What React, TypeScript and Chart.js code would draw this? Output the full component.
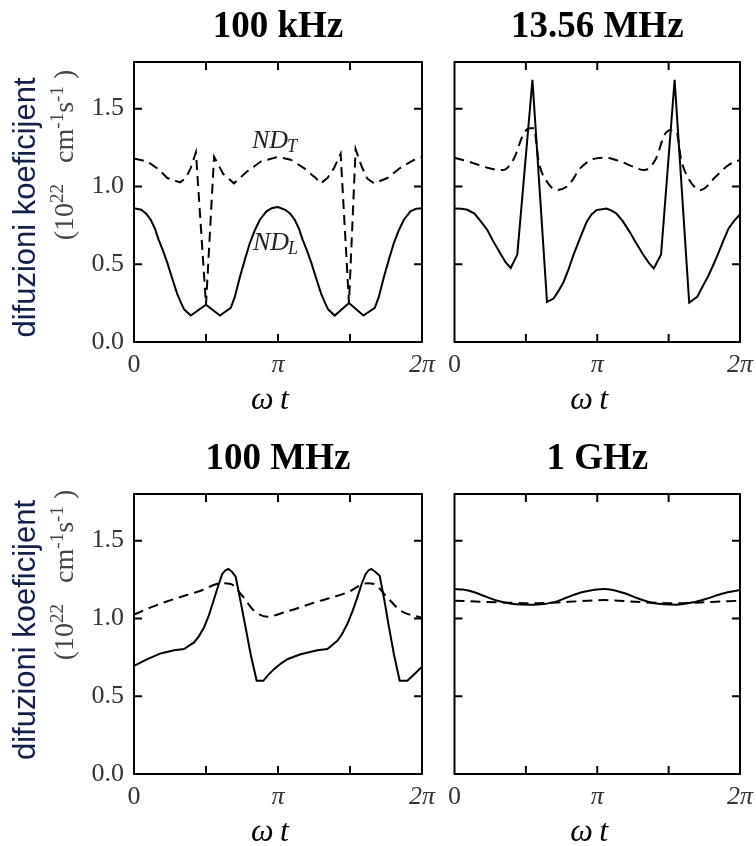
import React, { useEffect, useRef } from 'react';
import { Chart, registerables } from 'chart.js';

Chart.register(...registerables);
Chart.defaults.font.family = '"Liberation Serif", "Times New Roman", serif';

// x values are ωt / π (0 … 2)
const X_TICKS = [0, 0.5, 1, 1.5, 2];
const X_LABELS = ['0', '', 'π', '', '2π'];
const Y_TICKS = [0, 0.5, 1, 1.5];
const Y_LABELS = ['0.0', '0.5', '1.0', '1.5'];
const Y_MIN = 0;
const Y_MAX = 1.8;

const TITLES = ['100 kHz', '13.56 MHz', '100 MHz', '1 GHz'];
const X_TITLE = 'ω\u2009t\u2002';
const Y_TITLE_1 = 'difuzioni koeficijent';

// 100 kHz
const KHZ_L_X = [0, 0.05, 0.085, 0.116, 0.145, 0.17, 0.2, 0.232, 0.265, 0.3, 0.325, 0.348, 0.394, 0.5, 0.597, 0.672, 0.7, 0.736, 0.77, 0.804, 0.84, 0.874, 0.92, 0.96, 1.0, 1.05, 1.085, 1.116, 1.145, 1.17, 1.2, 1.232, 1.265, 1.3, 1.325, 1.348, 1.394, 1.493, 1.593, 1.672, 1.7, 1.736, 1.77, 1.804, 1.84, 1.874, 1.92, 1.96, 2.0];
const KHZ_L_Y = [0.86, 0.85, 0.825, 0.786, 0.73, 0.66, 0.59, 0.507, 0.41, 0.31, 0.255, 0.21, 0.17, 0.24, 0.17, 0.22, 0.29, 0.42, 0.53, 0.635, 0.72, 0.786, 0.84, 0.862, 0.867, 0.85, 0.825, 0.786, 0.73, 0.66, 0.59, 0.507, 0.41, 0.31, 0.255, 0.21, 0.17, 0.25, 0.17, 0.22, 0.29, 0.42, 0.53, 0.635, 0.72, 0.786, 0.84, 0.857, 0.86];
const KHZ_T_X = [0, 0.093, 0.174, 0.231, 0.32, 0.359, 0.394, 0.43, 0.5, 0.556, 0.62, 0.694, 0.787, 0.88, 1.0, 1.088, 1.18, 1.262, 1.297, 1.343, 1.39, 1.435, 1.493, 1.539, 1.58, 1.62, 1.667, 1.76, 1.85, 1.944, 2.0];
const KHZ_T_Y = [1.18, 1.16, 1.108, 1.054, 1.026, 1.054, 1.118, 1.22, 0.24, 1.19, 1.08, 1.02, 1.097, 1.16, 1.19, 1.172, 1.118, 1.054, 1.02, 1.054, 1.12, 1.21, 0.25, 1.24, 1.13, 1.05, 1.02, 1.054, 1.12, 1.17, 1.19];

// 13.56 MHz
const MHZ13_L_X = [0, 0.05, 0.09, 0.14, 0.18, 0.23, 0.27, 0.32, 0.36, 0.394, 0.44, 0.546, 0.648, 0.694, 0.73, 0.764, 0.8, 0.833, 0.88, 0.926, 0.96, 0.995, 1.065, 1.1, 1.134, 1.18, 1.227, 1.27, 1.319, 1.36, 1.396, 1.447, 1.542, 1.644, 1.7, 1.74, 1.78, 1.815, 1.852, 1.885, 1.92, 1.96, 2.0];
const MHZ13_L_Y = [0.858, 0.857, 0.85, 0.826, 0.78, 0.72, 0.65, 0.57, 0.51, 0.476, 0.562, 1.685, 0.258, 0.279, 0.33, 0.386, 0.47, 0.558, 0.67, 0.773, 0.82, 0.848, 0.858, 0.845, 0.826, 0.775, 0.708, 0.64, 0.566, 0.51, 0.472, 0.562, 1.685, 0.253, 0.29, 0.36, 0.429, 0.5, 0.579, 0.655, 0.73, 0.78, 0.82];
const MHZ13_T_X = [0, 0.139, 0.23, 0.336, 0.417, 0.475, 0.521, 0.556, 0.59, 0.648, 0.718, 0.8, 0.88, 0.972, 1.053, 1.157, 1.25, 1.33, 1.412, 1.47, 1.516, 1.556, 1.586, 1.632, 1.725, 1.829, 1.92, 2.0];
const MHZ13_T_Y = [1.185, 1.148, 1.12, 1.105, 1.18, 1.32, 1.374, 1.374, 1.159, 1.03, 0.977, 1.009, 1.116, 1.176, 1.185, 1.163, 1.127, 1.105, 1.18, 1.33, 1.363, 1.35, 1.18, 1.062, 0.977, 1.062, 1.138, 1.17];

// 100 MHz
const MHZ100_L_X = [0, 0.093, 0.185, 0.278, 0.347, 0.417, 0.45, 0.486, 0.52, 0.556, 0.585, 0.613, 0.635, 0.655, 0.68, 0.706, 0.74, 0.775, 0.81, 0.852, 0.898, 0.935, 0.972, 1.02, 1.065, 1.157, 1.273, 1.343, 1.412, 1.445, 1.481, 1.515, 1.551, 1.58, 1.609, 1.63, 1.648, 1.675, 1.706, 1.74, 1.771, 1.805, 1.845, 1.898, 1.95, 2.0];
const MHZ100_L_Y = [0.695, 0.738, 0.775, 0.796, 0.803, 0.846, 0.885, 0.942, 1.02, 1.125, 1.21, 1.286, 1.31, 1.318, 1.3, 1.268, 1.11, 0.942, 0.77, 0.599, 0.599, 0.64, 0.674, 0.71, 0.738, 0.77, 0.796, 0.803, 0.856, 0.9, 0.964, 1.04, 1.135, 1.22, 1.286, 1.31, 1.318, 1.3, 1.275, 1.11, 0.942, 0.77, 0.599, 0.599, 0.645, 0.69];
const MHZ100_T_X = [0, 0.116, 0.278, 0.463, 0.602, 0.671, 0.752, 0.833, 0.926, 1.042, 1.273, 1.481, 1.62, 1.667, 1.759, 1.852, 2.0];
const MHZ100_T_Y = [1.024, 1.071, 1.125, 1.178, 1.226, 1.221, 1.146, 1.05, 1.011, 1.039, 1.108, 1.167, 1.226, 1.221, 1.135, 1.05, 1.003];

// 1 GHz
const GHZ_L_X = [0, 0.06, 0.139, 0.22, 0.3, 0.4, 0.556, 0.7, 0.787, 0.9, 1.053, 1.18, 1.296, 1.4, 1.551, 1.68, 1.76, 1.88, 2.0];
const GHZ_L_Y = [1.189, 1.186, 1.168, 1.14, 1.114, 1.095, 1.088, 1.105, 1.135, 1.17, 1.189, 1.165, 1.125, 1.097, 1.088, 1.105, 1.125, 1.16, 1.183];
const GHZ_T_X = [0, 0.3, 0.556, 0.8, 1.05, 1.3, 1.551, 1.8, 2.0];
const GHZ_T_Y = [1.114, 1.104, 1.097, 1.107, 1.118, 1.105, 1.097, 1.106, 1.114];

// curve labels (100 kHz panel)
const LABEL_TEXT = ['ND', 'ND'];
const LABEL_SUB = ['T', 'L'];
const LABEL_X = [0.819, 0.826];
const LABEL_Y = [1.249, 0.592];

const SERIF = '"Liberation Serif", "Times New Roman", serif';
const SANS = '"Liberation Sans", Arial, sans-serif';

type PanelDef = {
  title: string; left: number; top: number; width: number; showY: boolean;
  padLeft: number; padRight: number;
  lx: number[]; ly: number[]; tx: number[]; ty: number[];
  smoothL: boolean; smoothT: boolean; labels: boolean;
  yOff1: number; yOff2: number;
};

const PAD_R = 28;

const PANELS: PanelDef[] = [
  { title: TITLES[0], left: 0, top: 0, width: 422 + PAD_R, showY: true, padLeft: 0, padRight: PAD_R, lx: KHZ_L_X, ly: KHZ_L_Y, tx: KHZ_T_X, ty: KHZ_T_Y, smoothL: false, smoothT: false, labels: true, yOff1: 145.5, yOff2: 93 },
  { title: TITLES[1], left: 440, top: 0, width: 300 + PAD_R, showY: false, padLeft: 13, padRight: PAD_R, lx: MHZ13_L_X, ly: MHZ13_L_Y, tx: MHZ13_T_X, ty: MHZ13_T_Y, smoothL: false, smoothT: true, labels: false, yOff1: 0, yOff2: 0 },
  { title: TITLES[2], left: 0, top: 432, width: 422 + PAD_R, showY: true, padLeft: 0, padRight: PAD_R, lx: MHZ100_L_X, ly: MHZ100_L_Y, tx: MHZ100_T_X, ty: MHZ100_T_Y, smoothL: false, smoothT: true, labels: false, yOff1: 136, yOff2: 81 },
  { title: TITLES[3], left: 440, top: 432, width: 300 + PAD_R, showY: false, padLeft: 13, padRight: PAD_R, lx: GHZ_L_X, ly: GHZ_L_Y, tx: GHZ_T_X, ty: GHZ_T_Y, smoothL: true, smoothT: true, labels: false, yOff1: 0, yOff2: 0 },
];

const CANVAS_H = 430;

function toXY(xs: number[], ys: number[]) {
  return xs.map((x, i) => ({ x, y: ys[i] }));
}

function makeDecor(p: PanelDef) {
  return {
    id: 'decor',
    afterDraw(chart: any) {
      const { ctx, chartArea: a, scales } = chart;
      const xs = scales.x;
      const ys = scales.y;
      ctx.save();
      // frame
      ctx.strokeStyle = '#000';
      ctx.lineWidth = 2;
      ctx.strokeRect(a.left, a.top, a.right - a.left, a.bottom - a.top);
      // inward ticks
      const TL = 8;
      ctx.beginPath();
      X_TICKS.forEach((v) => {
        if (v <= 0 || v >= 2) return;
        const px = xs.getPixelForValue(v);
        ctx.moveTo(px, a.bottom); ctx.lineTo(px, a.bottom - TL);
        ctx.moveTo(px, a.top); ctx.lineTo(px, a.top + TL);
      });
      Y_TICKS.forEach((v) => {
        if (v <= Y_MIN) return;
        const py = ys.getPixelForValue(v);
        ctx.moveTo(a.left, py); ctx.lineTo(a.left + TL, py);
        ctx.moveTo(a.right, py); ctx.lineTo(a.right - TL, py);
      });
      ctx.stroke();

      // curve labels
      if (p.labels) {
        ctx.fillStyle = '#222';
        ctx.textBaseline = 'alphabetic';
        ctx.textAlign = 'left';
        LABEL_TEXT.forEach((t, i) => {
          const px = xs.getPixelForValue(LABEL_X[i]);
          const py = ys.getPixelForValue(LABEL_Y[i]);
          ctx.font = `italic 26px ${SERIF}`;
          ctx.fillText(t, px, py);
          const w = ctx.measureText(t).width;
          ctx.font = `italic 18px ${SERIF}`;
          ctx.fillText(LABEL_SUB[i], px + w - 1, py + 4);
        });
      }

      // y-axis titles
      if (p.showY) {
        ctx.save();
        ctx.translate(35, a.top + p.yOff1);
        ctx.rotate(-Math.PI / 2);
        ctx.font = `31px ${SANS}`;
        ctx.fillStyle = '#12204a';
        ctx.textAlign = 'center';
        ctx.textBaseline = 'alphabetic';
        ctx.fillText(Y_TITLE_1, 0, 0);
        ctx.restore();

        const segs = [
          { t: '(', sup: false },
          { t: '10', sup: false },
          { t: '22', sup: true },
          { t: '   ', sup: false },
          { t: 'cm', sup: false },
          { t: '-1', sup: true },
          { t: 's', sup: false },
          { t: '-1', sup: true },
          { t: ' )', sup: false },
        ];
        const fontFor = (sup: boolean) => (sup ? `19px ${SERIF}` : `28px ${SERIF}`);
        let total = 0;
        segs.forEach((s) => { ctx.font = fontFor(s.sup); total += ctx.measureText(s.t).width; });
        ctx.save();
        ctx.translate(73, a.top + p.yOff2);
        ctx.rotate(-Math.PI / 2);
        ctx.fillStyle = '#444';
        ctx.textAlign = 'left';
        ctx.textBaseline = 'alphabetic';
        let cx = -total / 2;
        segs.forEach((s) => {
          ctx.font = fontFor(s.sup);
          ctx.fillText(s.t, cx, s.sup ? -10 : 0);
          cx += ctx.measureText(s.t).width;
        });
        ctx.restore();
      }
      ctx.restore();
    },
  };
}

function Panel({ p }: { p: PanelDef }) {
  const ref = useRef<HTMLCanvasElement | null>(null);
  useEffect(() => {
    if (!ref.current) return;
    const chart = new Chart(ref.current, {
      type: 'line',
      data: {
        datasets: [
          {
            data: toXY(p.lx, p.ly),
            borderColor: '#000',
            borderWidth: 2,
            pointRadius: 0,
            fill: false,
            tension: 0,
            cubicInterpolationMode: p.smoothL ? 'monotone' : 'default',
          },
          {
            data: toXY(p.tx, p.ty),
            borderColor: '#000',
            borderWidth: 2,
            borderDash: [10, 6],
            pointRadius: 0,
            fill: false,
            tension: 0,
            cubicInterpolationMode: p.smoothT ? 'monotone' : 'default',
          },
        ],
      } as any,
      options: {
        responsive: false,
        maintainAspectRatio: false,
        animation: false,
        devicePixelRatio: 1,
        events: [],
        layout: { padding: { left: p.padLeft, right: p.padRight, top: 0, bottom: 0 } },
        plugins: {
          legend: { display: false },
          tooltip: { enabled: false },
          title: {
            display: true,
            text: p.title,
            fullSize: false,
            color: '#000',
            font: { family: SERIF, size: 37, weight: 'bold', lineHeight: 1.2 },
            padding: { top: 5, bottom: 12.6 },
          },
        },
        scales: {
          x: {
            type: 'linear',
            min: 0,
            max: 2,
            afterBuildTicks: (s: any) => { s.ticks = X_TICKS.map((v) => ({ value: v })); },
            afterFit: (s: any) => { s.height = CANVAS_H - 342; },
            grid: { display: false, drawTicks: false },
            border: { display: false },
            ticks: {
              autoSkip: false,
              maxRotation: 0,
              padding: 8,
              color: '#333',
              font: (c: any) => ({ family: SERIF, size: 26, style: c.tick && c.tick.value > 0 ? 'italic' : 'normal' }),
              callback: (v: any) => X_LABELS[X_TICKS.indexOf(Number(v))] ?? '',
            },
            title: {
              display: true,
              text: X_TITLE,
              color: '#000',
              font: { family: SERIF, size: 32, style: 'italic', lineHeight: 1.2 },
              padding: { top: 0, bottom: 10 },
            },
          },
          y: {
            type: 'linear',
            min: Y_MIN,
            max: Y_MAX,
            display: p.showY,
            afterBuildTicks: (s: any) => { s.ticks = Y_TICKS.map((v) => ({ value: v })); },
            afterFit: (s: any) => { s.width = p.showY ? 134 : 0; },
            grid: { display: false, drawTicks: false },
            border: { display: false },
            ticks: {
              padding: 10,
              color: '#333',
              font: { family: SERIF, size: 26 },
              callback: (v: any) => Y_LABELS[Y_TICKS.indexOf(Number(v))] ?? '',
            },
          },
        },
      } as any,
      plugins: [makeDecor(p)],
    });
    return () => chart.destroy();
  }, [p]);
  return (
    <canvas
      ref={ref}
      width={p.width}
      height={CANVAS_H}
      style={{ position: 'absolute', left: p.left, top: p.top, width: p.width, height: CANVAS_H }}
    />
  );
}

export default function App() {
  return (
    <div style={{ position: 'absolute', left: 0, top: 0, width: 756, height: 846, overflow: 'hidden', background: '#fff' }}>
      {PANELS.map((p, i) => <Panel key={i} p={p} />)}
    </div>
  );
}
